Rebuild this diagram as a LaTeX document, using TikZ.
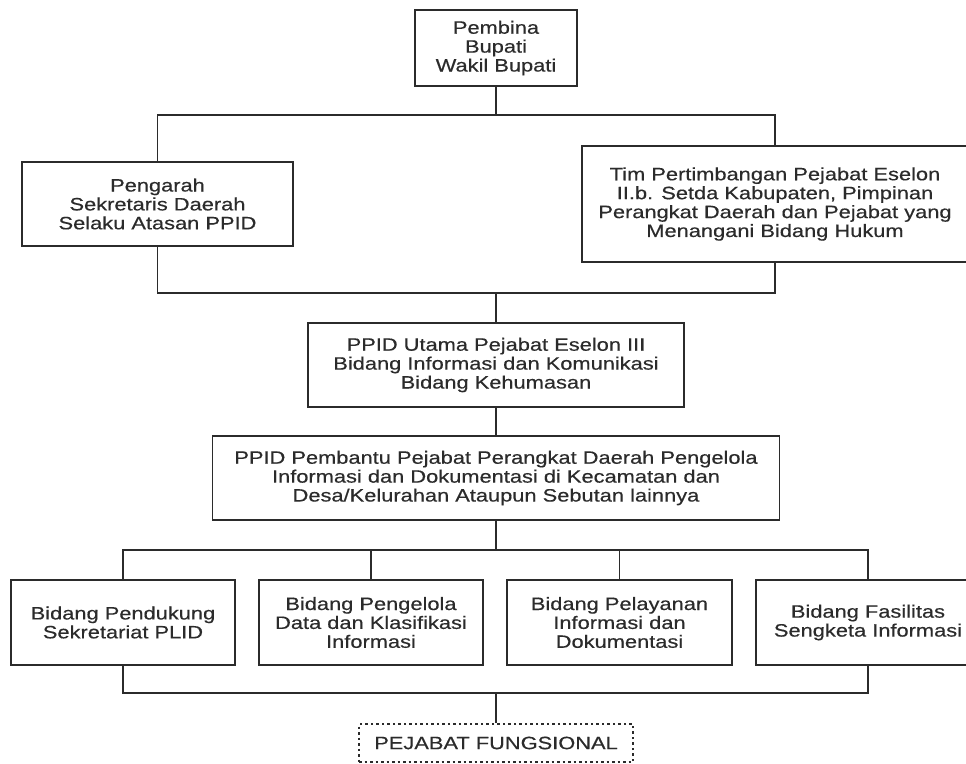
\documentclass[tikz,border=0pt]{standalone}
\usepackage{fontspec}
\setmainfont{Liberation Sans}[FakeStretch=1.22,FakeBold=0.4]
\definecolor{ink}{HTML}{2B2B2B}
\tikzset{
  box/.style={draw=ink, line width=1.6pt, fill=white, inner sep=0pt, align=center,
    text=ink, font=\fontsize{17.9}{18.9}\selectfont},
  dbox/.style={box, dash pattern=on 2.5pt off 3pt},
  link/.style={draw=ink, line width=1.6pt},
}
\begin{document}
\begin{tikzpicture}[x=1pt,y=-1pt]
\useasboundingbox (0,0) rectangle (966,763);
% nodes
\node[box, minimum width=162pt, minimum height=76pt] (top) at (496,48) {Pembina\\Bupati\\Wakil Bupati};
\node[box, minimum width=271pt, minimum height=84pt] (left) at (157.5,204) {Pengarah\\Sekretaris Daerah\\Selaku Atasan PPID};
\node[box, minimum width=386pt, minimum height=116pt] (right) at (775,204) {Tim Pertimbangan Pejabat Eselon\\II.b. Setda Kabupaten, Pimpinan\\Perangkat Daerah dan Pejabat yang\\Menangani Bidang Hukum};
\node[box, minimum width=376pt, minimum height=84pt] (utama) at (496,365) {PPID Utama Pejabat Eselon III\\Bidang Informasi dan Komunikasi\\Bidang Kehumasan};
\node[box, minimum width=567pt, minimum height=84pt] (pembantu) at (496,478) {PPID Pembantu Pejabat Perangkat Daerah Pengelola\\Informasi dan Dokumentasi di Kecamatan dan\\Desa/Kelurahan Ataupun Sebutan lainnya};
\node[box, minimum width=224pt, minimum height=85pt] (b1) at (123,622.5) {Bidang Pendukung\\Sekretariat PLID};
\node[box, minimum width=224pt, minimum height=85pt] (b2) at (371,622.5) {Bidang Pengelola\\Data dan Klasifikasi\\Informasi};
\node[box, minimum width=225pt, minimum height=85pt] (b3) at (619.5,622.5) {Bidang Pelayanan\\Informasi dan\\Dokumentasi};
\node[box, minimum width=224pt, minimum height=85pt] (b4) at (868,622.5) {Bidang Fasilitas\\Sengketa Informasi};
\node[dbox, minimum width=274pt, minimum height=38pt] (fung) at (496,743) {PEJABAT FUNGSIONAL};
% bus points
\coordinate (bus1) at (496,115);
\coordinate (bus2) at (496,293);
\coordinate (bus3) at (496,550);
\coordinate (bus4) at (496,693);
% connectors
\draw[link] (top.south) -- (bus1);
\draw[link] (left.north) |- (bus1) -| (right.north);
\draw[link] (left.south) |- (bus2) -| (right.south);
\draw[link] (bus2) -- (utama.north);
\draw[link] (utama.south) -- (pembantu.north);
\draw[link] (pembantu.south) -- (bus3);
\draw[link] (b1.north) |- (bus3) -| (b4.north);
\draw[link] (b2.north) -- (b2.north |- bus3);
\draw[link] (b3.north) -- (b3.north |- bus3);
\draw[link] (b1.south) |- (bus4) -| (b4.south);
\draw[link] (bus4) -- (fung.north);
\end{tikzpicture}
\end{document}
